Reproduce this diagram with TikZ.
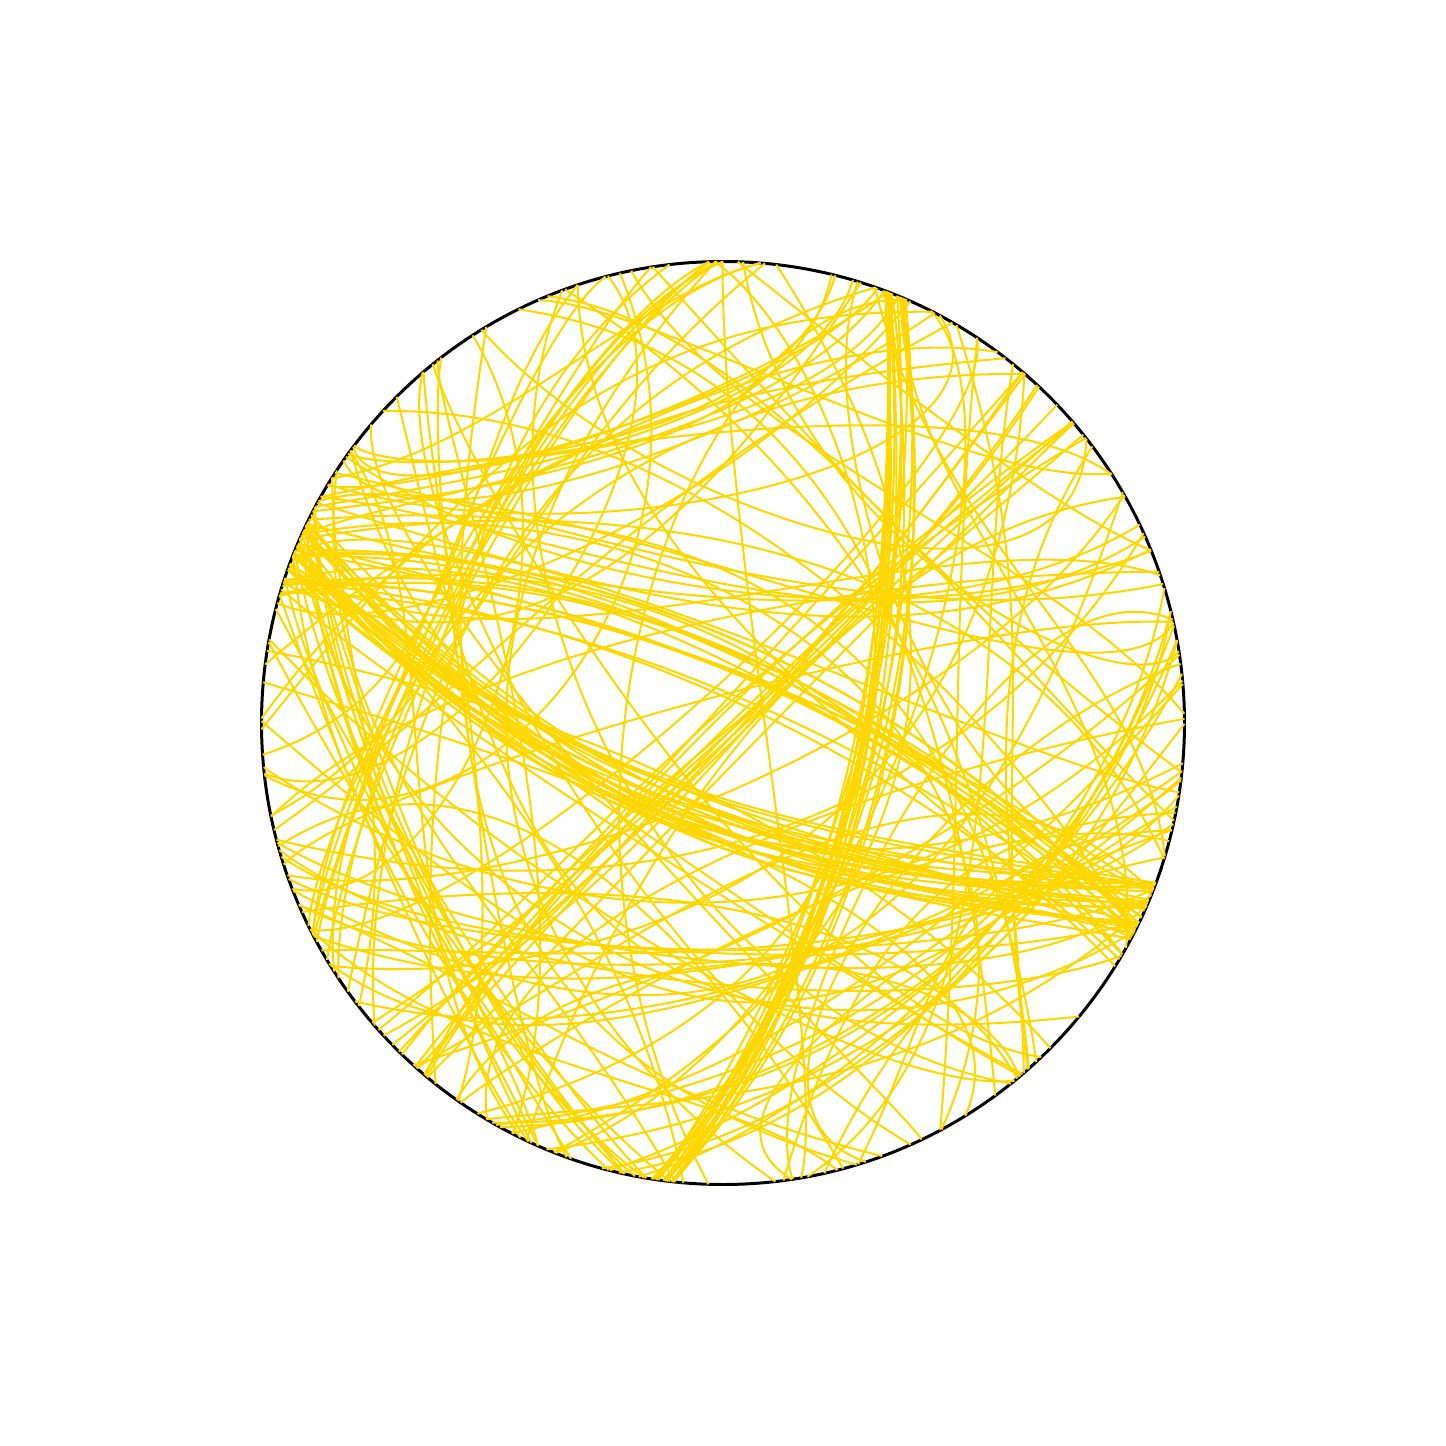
\documentclass[tikz,border=0pt]{standalone}
\usepackage{tikz}
\definecolor{linkc}{RGB}{255,215,0}
\begin{document}
\begin{tikzpicture}[x=1cm,y=1cm,
  link/.style={draw=linkc,line width=0.58pt},
  rim/.style={draw=black,line width=0.85pt}]
\useasboundingbox (-7.23,-7.23) rectangle (7.23,7.23);
\def\R{4.615}
\draw[rim] (0,0) circle (\R);
\pgfmathsetseed{2024}
% bundles: angle a / angle b / count / angle spread / control 1 / control 2 / jitter
\foreach \a/\b/\n/\s/\px/\py/\qx/\qy/\j in {
  157/336/22/4/-1.5/-1.2/1.5/-1.5/0.45,
  160/334/14/5/-1.5/1.6/1.5/0.2/0.5,
  67.5/262/16/2/1.95/1.4/1.5/-2.0/0.3,
  44/225/12/6/0.8/0.6/-1.5/-1.5/0.6,
  162/255/12/10/-3.8/-0.5/-2.4/-3.3/0.3,
  95/215/8/10/-1.8/3.7/-3.8/-0.5/0.3,
  10/250/8/12/3.8/-1.5/1.5/-3.8/0.3,
  150/70/8/8/-3.0/2.0/0.5/3.0/0.5,
  18/150/5/8/2.0/0.8/-1.5/1.5/0.6,
  200/340/6/12/-2.5/-2.5/2.5/-2.8/0.4}{
  \foreach \i in {1,...,\n}{
    \pgfmathsetmacro\aa{\a+\s*rand}
    \pgfmathsetmacro\bb{\b+\s*rand}
    \pgfmathsetmacro\pxx{\px+\j*rand}
    \pgfmathsetmacro\pyy{\py+\j*rand}
    \pgfmathsetmacro\qxx{\qx+\j*rand}
    \pgfmathsetmacro\qyy{\qy+\j*rand}
    \draw[link] (\aa:\R) .. controls (\pxx,\pyy) and (\qxx,\qyy) .. (\bb:\R);
  }
}
% arcs that run along the rim
\foreach \i in {1,...,62}{
  \pgfmathsetmacro\aa{360*rnd}
  \pgfmathsetmacro\dd{50+170*rnd}
  \pgfmathsetmacro\bb{\aa+\dd}
  \pgfmathsetmacro\ca{\aa+\dd*(0.1+0.35*rnd)}
  \pgfmathsetmacro\cr{\R*(0.5+0.45*rnd)}
  \pgfmathsetmacro\cb{\aa+\dd*(0.55+0.35*rnd)}
  \pgfmathsetmacro\dr{\R*(0.5+0.45*rnd)}
  \draw[link] (\aa:\R) .. controls (\ca:\cr) and (\cb:\dr) .. (\bb:\R);
}
% other scattered links
\foreach \i in {1,...,35}{
  \pgfmathsetmacro\aa{360*rnd}
  \pgfmathsetmacro\bb{\aa+70+220*rnd}
  \pgfmathsetmacro\ca{\aa+30*rand}
  \pgfmathsetmacro\cr{\R*(0.3+0.6*rnd)}
  \pgfmathsetmacro\cb{\bb+30*rand}
  \pgfmathsetmacro\dr{\R*(0.3+0.6*rnd)}
  \draw[link] (\aa:\R) .. controls (\ca:\cr) and (\cb:\dr) .. (\bb:\R);
}
\end{tikzpicture}
\end{document}
